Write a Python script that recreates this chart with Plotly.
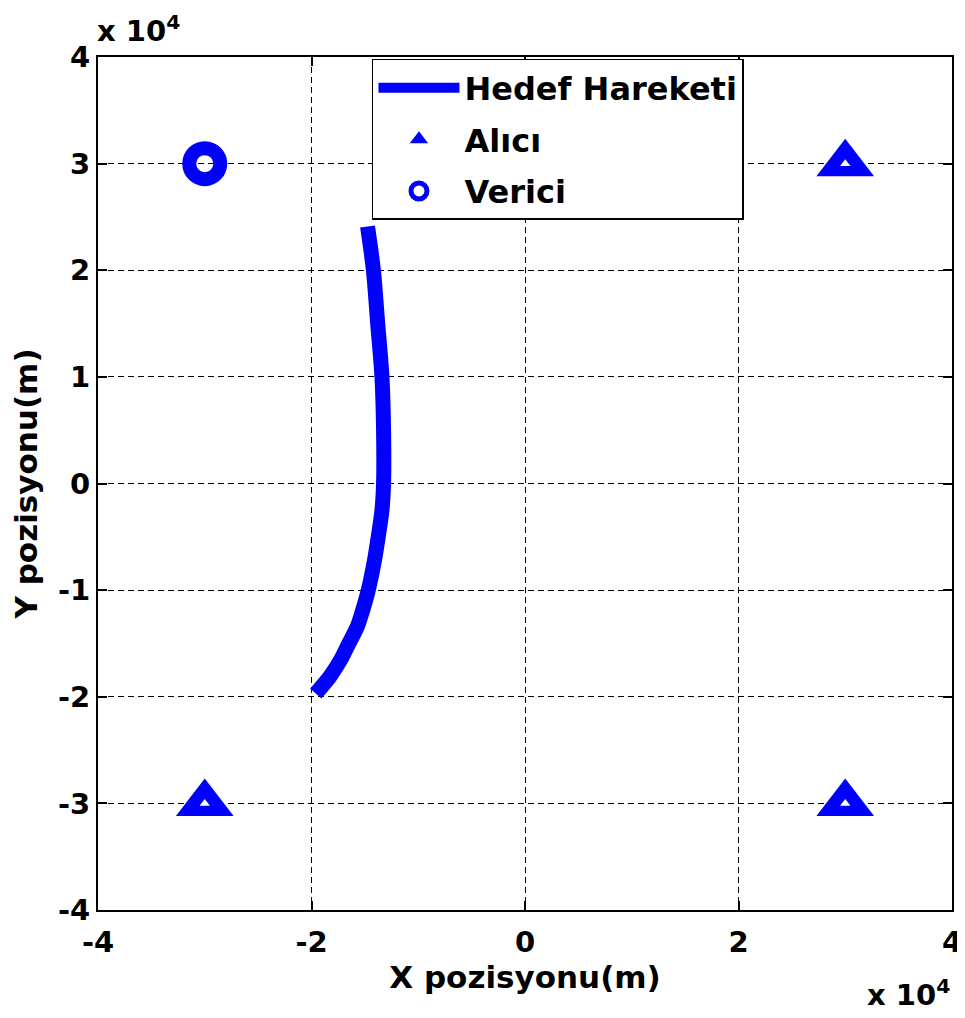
import plotly.graph_objects as go

# Target trajectory (meters)
target_x = [-14750, -14200, -13800, -13400, -13250, -13250, -13400, -13750, -14100, -14680, -15240, -15700, -16500, -17250, -18270, -19600]
target_y = [24100, 20000, 15000, 10000, 5000, 0, -2500, -5000, -7200, -10000, -12000, -13400, -15000, -16500, -18100, -19700]

# Receivers (Alıcı)
rx_x = [30000, -30000, 30000]
rx_y = [30000, -30000, -30000]

# Transmitter (Verici)
tx_x = [-30000]
tx_y = [30000]

x_ticks = [-40000, -20000, 0, 20000, 40000]
x_ticklabels = ["-4", "-2", "0", "2", "4"]
y_ticks = [-40000, -30000, -20000, -10000, 0, 10000, 20000, 30000, 40000]
y_ticklabels = ["-4", "-3", "-2", "-1", "0", "1", "2", "3", "4"]

BLUE = "#0000ff"
FONT = "DejaVu Sans"

fig = go.Figure()
fig.add_trace(go.Scatter(
    x=target_x, y=target_y, mode="lines", name="Hedef Hareketi",
    line=dict(color=BLUE, width=15, shape="spline", smoothing=0.85),
    legendgroup="a",
))
fig.add_trace(go.Scatter(
    x=rx_x, y=rx_y, mode="markers", name="Alıcı",
    marker=dict(symbol="triangle-up", size=50, color=BLUE,
                line=dict(width=0)),
    legendgroup="b",
))
# small white hole inside the receiver triangles
fig.add_trace(go.Scatter(
    x=rx_x, y=rx_y, mode="markers", showlegend=False, hoverinfo="skip",
    marker=dict(symbol="triangle-up", size=9, color="white",
                line=dict(width=0)),
    legendgroup="b",
))
fig.add_trace(go.Scatter(
    x=tx_x, y=tx_y, mode="markers", name="Verici",
    marker=dict(symbol="circle-open", size=31, color=BLUE,
                line=dict(color=BLUE, width=14)),
    legendgroup="c",
))

axis_common = dict(
    showgrid=True, gridcolor="black", griddash="6px,4px", gridwidth=1.2,
    showline=True, linecolor="black", linewidth=2, mirror="ticks",
    ticks="inside", ticklen=9, tickwidth=1.5, tickcolor="black",
    zeroline=False, automargin=False,
    tickfont=dict(family=FONT, size=29, color="black", weight="bold"),
)

# page body has an 8px margin: figure is offset by (8, 8)
fig.update_layout(
    width=957, height=1010,
    margin=dict(l=90, r=13, t=49, b=108),
    paper_bgcolor="white", plot_bgcolor="white",
    showlegend=True,
    legend=dict(
        x=0.3208, y=0.9977, xanchor="left", yanchor="top",
        bgcolor="white", bordercolor="black", borderwidth=1.5,
        font=dict(family=FONT, size=32, color="black", weight="bold"),
        itemwidth=81, tracegroupgap=7,
    ),
    xaxis=dict(
        range=[-40000, 40000], tickvals=x_ticks, ticktext=x_ticklabels,
        ticklabelstandoff=5,
        title=dict(text="X pozisyonu(m)", standoff=0,
                   font=dict(family=FONT, size=31, color="black", weight="bold")),
        **axis_common,
    ),
    yaxis=dict(
        range=[-40000, 40000], tickvals=y_ticks, ticktext=y_ticklabels,
        title=dict(text="Y pozisyonu(m)", standoff=14,
                   font=dict(family=FONT, size=31, color="black", weight="bold")),
        **axis_common,
    ),
    annotations=[
        dict(text="x 10<sup>4</sup>", xref="paper", yref="paper",
             x=-0.003, y=1.008, xanchor="left", yanchor="bottom", showarrow=False,
             font=dict(family=FONT, size=29, color="black", weight="bold")),
        dict(text="x 10<sup>4</sup>", xref="paper", yref="paper",
             x=1.0, y=-0.122, xanchor="right", yanchor="bottom", showarrow=False,
             font=dict(family=FONT, size=29, color="black", weight="bold")),
    ],
)

fig.write_html("out.html")
